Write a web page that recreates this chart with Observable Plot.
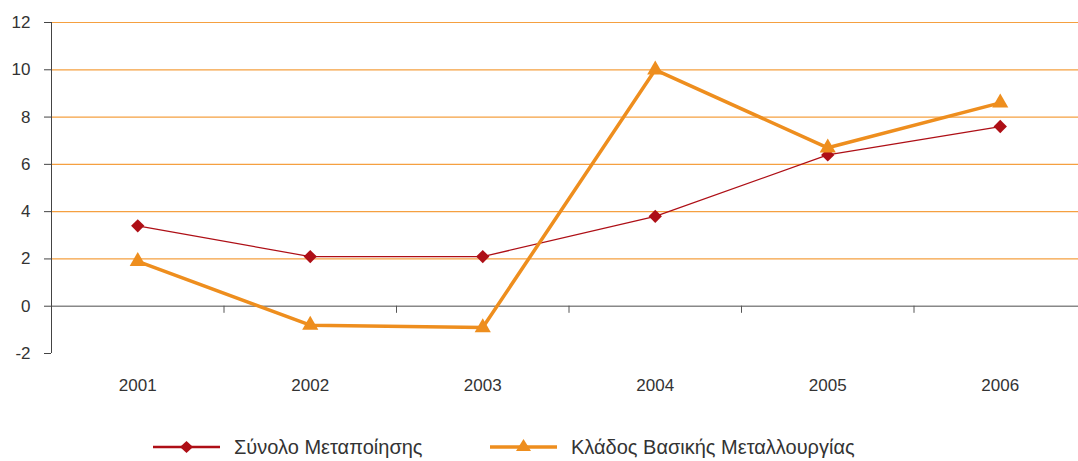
<!DOCTYPE html>
<html>
<head>
<meta charset="utf-8">
<script src="https://cdn.jsdelivr.net/npm/d3@7"></script>
<script src="https://cdn.jsdelivr.net/npm/@observablehq/plot@0.6"></script>
<style>
  html, body { margin: 0; padding: 0; background: #fff; }
  body { width: 1078px; height: 461px; overflow: hidden; font-family: "Liberation Sans", Arial, sans-serif; }
  #legend { position: relative; height: 41px; }
  .item { position: absolute; top: 14px; display: flex; align-items: center; font-size: 20px; color: #333; }
  .item svg { margin-right: 14px; }
</style>
</head>
<body>
<div id="chart"></div>
<div id="legend"></div>
<script>
const years = [2001, 2002, 2003, 2004, 2005, 2006];
const seriesNames = ["Σύνολο Μεταποίησης", "Κλάδος Βασικής Μεταλλουργίας"];
const totalManufacturing = [3.4, 2.1, 2.1, 3.8, 6.4, 7.6];
const basicMetallurgy = [1.9, -0.8, -0.9, 10.0, 6.7, 8.6];
const yTicks = [-2, 0, 2, 4, 6, 8, 10, 12];
const colors = ["#AE0F16", "#EE8E1E"];

const data = years.flatMap((yr, i) => [
  {year: yr, value: totalManufacturing[i], series: seriesNames[0]},
  {year: yr, value: basicMetallurgy[i], series: seriesNames[1]}
]);
const bounds = years.slice(0, -1).map(y => y + 0.5);

const chart = Plot.plot({
  width: 1078,
  height: 420,
  marginLeft: 51,
  marginRight: 0,
  marginTop: 22,
  marginBottom: 67,
  style: {fontFamily: "'Liberation Sans', Arial, sans-serif", fontSize: "17px", color: "#333"},
  x: {domain: [2000.5, 2006.5], range: [51, 1086], axis: null},
  y: {domain: [-2, 12], axis: null},
  marks: [
    Plot.ruleY(yTicks.filter(d => d > 0), {stroke: "#F5A040", strokeWidth: 1.2}),
    Plot.ruleY([0], {stroke: "#888", strokeWidth: 1.5}),
    Plot.ruleX([2000.5], {y1: -2, y2: 12, stroke: "#444", strokeWidth: 1}),
    Plot.ruleX(bounds, {y1: 0, y2: -0.3, stroke: "#555", strokeWidth: 1}),
    Plot.axisY({ticks: yTicks, tickSize: 7, tickPadding: 14, tickFormat: d => String(d), stroke: "#444", fill: "#333", label: null}),
    Plot.text(years, {x: d => d, y: -2, dy: 32, text: d => String(d), fill: "#333"}),
    Plot.line(data.filter(d => d.series === seriesNames[0]), {x: "year", y: "value", stroke: colors[0], strokeWidth: 1.3}),
    Plot.line(data.filter(d => d.series === seriesNames[1]), {x: "year", y: "value", stroke: colors[1], strokeWidth: 3.5}),
    Plot.dot(data.filter(d => d.series === seriesNames[0]), {x: "year", y: "value", symbol: "diamond2", r: 6, fill: colors[0], stroke: "none"}),
    Plot.dot(data.filter(d => d.series === seriesNames[1]), {x: "year", y: "value", symbol: "triangle", r: 6, fill: colors[1]})
  ]
});
document.getElementById("chart").appendChild(chart);

const legend = document.getElementById("legend");
const positions = [153, 490];
seriesNames.forEach((name, i) => {
  const item = document.createElement("div");
  item.className = "item";
  item.style.left = positions[i] + "px";
  const sym = i === 0
    ? `<path d="M33.5 7 L40 13 L33.5 19 L27 13 Z" fill="${colors[0]}"/>`
    : `<path d="M33.5 5 L41 17 L26 17 Z" fill="${colors[1]}"/>`;
  item.innerHTML = `<svg width="67" height="26"><line x1="0" x2="67" y1="13" y2="13" stroke="${colors[i]}" stroke-width="${i === 0 ? 2.5 : 3.5}"/>${sym}</svg><span>${name}</span>`;
  legend.appendChild(item);
});
</script>
</body>
</html>
